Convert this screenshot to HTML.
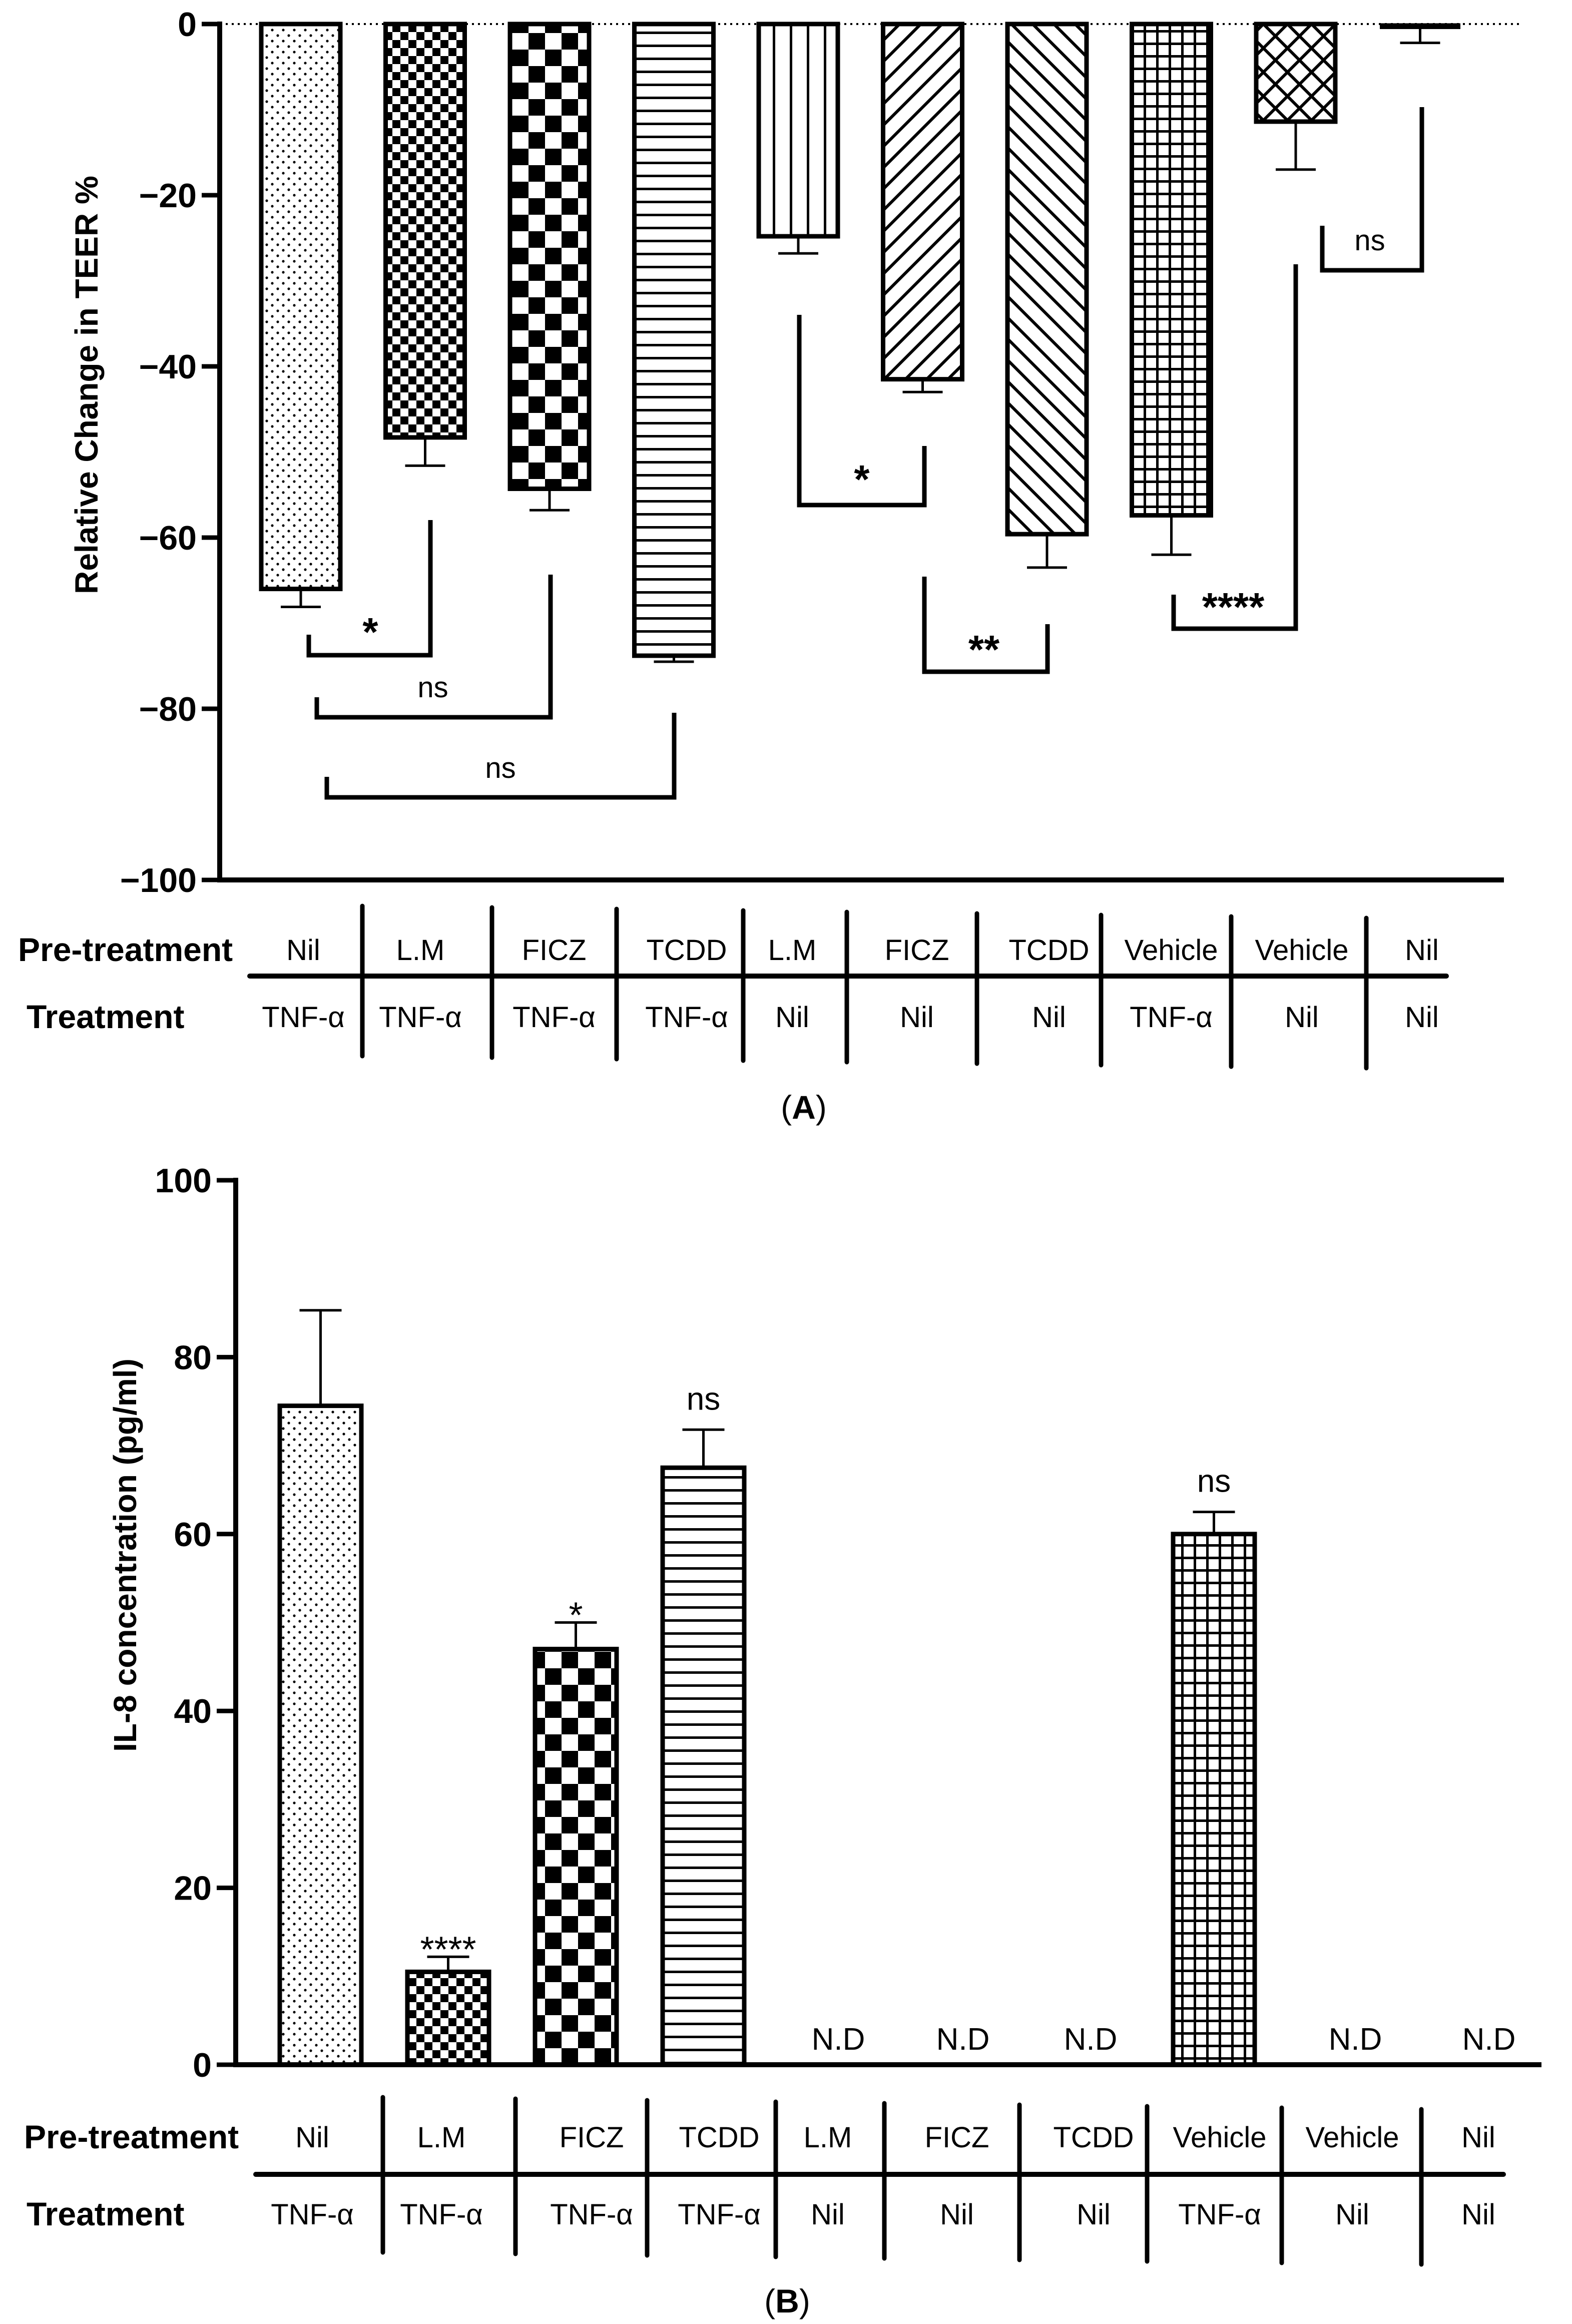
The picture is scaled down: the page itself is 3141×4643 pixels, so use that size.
<!DOCTYPE html>
<html><head><meta charset="utf-8"><style>
html,body{margin:0;padding:0;background:#fff}
svg{display:block}
text{font-family:"Liberation Sans",Arial,sans-serif}
</style></head><body>
<svg id="fig" width="3141" height="4643" viewBox="0 0 3141 4643" xmlns="http://www.w3.org/2000/svg">
<defs>
<pattern id="p0" width="22" height="22" patternUnits="userSpaceOnUse"><rect width="22" height="22" fill="#fff"/><circle cx="5" cy="5" r="2.6" fill="#000"/><circle cx="16" cy="16" r="2.6" fill="#000"/></pattern>
<pattern id="p1" width="32" height="32" patternUnits="userSpaceOnUse"><rect width="32" height="32" fill="#fff"/><rect width="16" height="16" fill="#000"/><rect x="16" y="16" width="16" height="16" fill="#000"/></pattern>
<pattern id="p2" width="66" height="66" patternUnits="userSpaceOnUse"><rect width="66" height="66" fill="#fff"/><rect width="33" height="33" fill="#000"/><rect x="33" y="33" width="33" height="33" fill="#000"/></pattern>
<pattern id="p3" width="26" height="26" patternUnits="userSpaceOnUse"><rect width="26" height="26" fill="#fff"/><rect y="11" width="26" height="5" fill="#000"/></pattern>
<pattern id="p4" width="34" height="34" patternUnits="userSpaceOnUse"><rect width="34" height="34" fill="#fff"/><rect x="14" width="5" height="34" fill="#000"/></pattern>
<pattern id="p5" width="30" height="30" patternUnits="userSpaceOnUse" patternTransform="rotate(45)"><rect width="30" height="30" fill="#fff"/><rect x="12" width="6" height="30" fill="#000"/></pattern>
<pattern id="p6" width="30" height="30" patternUnits="userSpaceOnUse" patternTransform="rotate(-45)"><rect width="30" height="30" fill="#fff"/><rect x="12" width="6" height="30" fill="#000"/></pattern>
<pattern id="p7" width="25" height="25" patternUnits="userSpaceOnUse"><rect width="25" height="25" fill="#fff"/><rect x="10" width="5" height="25" fill="#000"/><rect y="10" width="25" height="5" fill="#000"/></pattern>
<pattern id="p8" width="34" height="34" patternUnits="userSpaceOnUse" patternTransform="rotate(45)"><rect width="34" height="34" fill="#fff"/><rect x="14" width="6" height="34" fill="#000"/><rect y="14" width="34" height="6" fill="#000"/></pattern>
</defs>
<g id="A"></g>
<g id="B"></g>
</svg>
<script>
var preTreat = ["Nil","L.M","FICZ","TCDD","L.M","FICZ","TCDD","Vehicle","Vehicle","Nil"];
var treat = ["TNF-α","TNF-α","TNF-α","TNF-α","Nil","Nil","Nil","TNF-α","Nil","Nil"];
var teerValues = [-66, -48.3, -54.3, -73.8, -24.8, -41.5, -59.6, -57.4, -11.4, -0.5];
var teerErrors = [2.1, 3.3, 2.5, 0.7, 2.0, 1.5, 3.9, 4.6, 5.6, 1.7];
var teerTicks = [0, -20, -40, -60, -80, -100];
var il8Values = [74.5, 10.5, 47, 67.5, 0, 0, 0, 60, 0, 0];
var il8Errors = [10.8, 1.7, 3.0, 4.3, 0, 0, 0, 2.5, 0, 0];
var il8Detected = [true, true, true, true, false, false, false, true, false, false];
var il8Sig = ["", "****", "*", "ns", "", "", "", "ns", "", ""];
var il8Ticks = [0, 20, 40, 60, 80, 100];

var NS="http://www.w3.org/2000/svg";
function mk(parent, tag, attrs, txt){var e=document.createElementNS(NS,tag);for(var k in attrs)e.setAttribute(k,attrs[k]);if(txt!=null)e.textContent=txt;parent.appendChild(e);return e;}

// ---------- Chart A ----------
var gA=document.getElementById('A');
var aX0=439, aX1=3005, aY0=48, aY100=1758;
function yA(v){return aY0+(0-v)/100*(aY100-aY0);}
function xA(i){return 522+i*248.5;}
var bwA=158;
var zl=mk(gA,'line',{x1:aX0,y1:yA(0),x2:3035,y2:yA(0),stroke:'#000','stroke-width':4,'stroke-dasharray':'4 8'});


for(var i=0;i<teerValues.length;i++){
  var v=teerValues[i], e=teerErrors[i];
  var r=mk(gA,'rect',{x:xA(i),y:yA(0),width:bwA,height:Math.max(yA(v)-yA(0),2),fill:'url(#p'+Math.min(i,8)+')',stroke:'#000','stroke-width':9});
  if(i==9){r.setAttribute('fill','#000');r.setAttribute('stroke-width',3);}
  
  
  var cx=xA(i)+bwA/2;
  var el=mk(gA,'path',{d:'M'+cx+','+yA(v)+'V'+yA(v-e)+'M'+(cx-40)+','+yA(v-e)+'H'+(cx+40),stroke:'#000','stroke-width':5,fill:'none'});
  
  
}
var axA=mk(gA,'path',{d:'M'+aX0+','+(aY0-5)+'V'+aY100+'H'+aX1,stroke:'#000','stroke-width':10,fill:'none'});


for(var t=0;t<teerTicks.length;t++){
  var y=yA(teerTicks[t]);
  mk(gA,'line',{x1:403,y1:y,x2:aX0,y2:y,stroke:'#000','stroke-width':9});
  var tl=mk(gA,'text',{x:393,y:y+24,'text-anchor':'end','font-size':68,'font-weight':'bold'},teerTicks[t]<0?'−'+Math.abs(teerTicks[t]):String(teerTicks[t]));
  
  
}
var ytA=mk(gA,'text',{x:0,y:0,transform:'translate(195,769) rotate(-90)','text-anchor':'middle','font-size':64,'font-weight':'bold'},'Relative Change in TEER %');


var brA=[
 {d:'M617,1268V1309H860V1039',t:'*',tx:740,ty:1290,fs:80,b:true},
 {d:'M633,1393V1433H1100V1148',t:'ns',tx:865,ty:1393,fs:58,b:false},
 {d:'M653,1552V1593H1347V1424',t:'ns',tx:1000,ty:1554,fs:58,b:false},
 {d:'M1597,629V1009H1847V891',t:'*',tx:1722,ty:985,fs:80,b:true},
 {d:'M1847,1152V1342H2093V1247',t:'**',tx:1966,ty:1325,fs:80,b:true},
 {d:'M2345,1188V1256H2589V528',t:'****',tx:2464,ty:1240,fs:80,b:true},
 {d:'M2642,451V540H2841V214',t:'ns',tx:2737,ty:500,fs:58,b:false}
];
for(var k=0;k<brA.length;k++){
  var b=brA[k];
  var p=mk(gA,'path',{d:b.d,stroke:'#000','stroke-width':9,fill:'none'});
  
  
  var st=mk(gA,'text',{x:b.tx,y:b.ty,'text-anchor':'middle','font-size':b.fs,'font-weight':b.b?'bold':'normal'},b.t);
  
  
}
function table(g, rowY1, rowY2, lineY, lineX0, lineX1, seps, sepTop, sepBot, centers, lblX1, lblX2, tag){
  var l=mk(g,'line',{x1:lineX0,y1:lineY,x2:lineX1,y2:lineY,stroke:'#000','stroke-width':10,'stroke-linecap':'round'});
  
  
  for(var s=0;s<seps.length;s++){
    var sl=mk(g,'line',{x1:seps[s],y1:sepTop+s*3,x2:seps[s],y2:sepBot+s*3,stroke:'#000','stroke-width':9,'stroke-linecap':'round'});
    
    
  }
  var a=mk(g,'text',{x:lblX1,y:rowY1+22,'font-size':66,'font-weight':'bold'},'Pre-treatment');
  
  
  var c=mk(g,'text',{x:lblX2,y:rowY2+22,'font-size':66,'font-weight':'bold'},'Treatment');
  
  
  for(var i=0;i<centers.length;i++){
    var t1=mk(g,'text',{x:centers[i],y:rowY1+20,'text-anchor':'middle','font-size':58},preTreat[i]);
    
    
    var t2=mk(g,'text',{x:centers[i],y:rowY2+20,'text-anchor':'middle','font-size':58},treat[i]);
    
    
  }
}
table(gA,1898,2032,1950,499,2890,[724,983,1232,1485,1692,1952,2200,2460,2730],1810,2110,
 [606,840,1107,1372,1583,1832,2096,2340,2601,2841],36,53,'a');
var ca=mk(gA,'text',{x:1606,y:2235,'text-anchor':'middle','font-size':66,'font-family':'Liberation Serif, serif'});


ca.innerHTML='(<tspan font-weight="bold">A</tspan>)';

// ---------- Chart B ----------
var gB=document.getElementById('B');
var bX0=471, bX1=3080, bY0=4125, bY100=2358;
function yB(v){return bY0-v/100*(bY0-bY100);}
function xB(i){return 559+i*255;}
var bwB=163;
var ndX=[0,0,0,0,1675,1924,2179,0,2708,2975];
for(var i=0;i<il8Values.length;i++){
  var cx=xB(i)+bwB/2;
  if(il8Detected[i]){
    var v=il8Values[i], e=il8Errors[i];
    var r=mk(gB,'rect',{x:xB(i),y:yB(v),width:bwB,height:yB(0)-yB(v),fill:'url(#p'+i+')',stroke:'#000','stroke-width':9});
    
    
    var el=mk(gB,'path',{d:'M'+cx+','+yB(v)+'V'+yB(v+e)+'M'+(cx-42)+','+yB(v+e)+'H'+(cx+42),stroke:'#000','stroke-width':5,fill:'none'});
    
    
    if(il8Sig[i]){
      var isStar=il8Sig[i].indexOf('*')>=0;
      var sg=mk(gB,'text',{x:cx,y:yB(v+e)-(isStar?-10:40),'text-anchor':'middle','font-size':isStar?72:64},il8Sig[i]);
      
      
    }
  } else {
    var nd=mk(gB,'text',{x:ndX[i],y:4095,'text-anchor':'middle','font-size':62},'N.D');
    
    
  }
}
var axB=mk(gB,'path',{d:'M'+bX0+','+(bY100-5)+'V'+bY0+'H'+bX1,stroke:'#000','stroke-width':10,fill:'none'});


for(var t=0;t<il8Ticks.length;t++){
  var y=yB(il8Ticks[t]);
  mk(gB,'line',{x1:433,y1:y,x2:bX0,y2:y,stroke:'#000','stroke-width':9});
  var tl=mk(gB,'text',{x:423,y:y+24,'text-anchor':'end','font-size':68,'font-weight':'bold'},String(il8Ticks[t]));
  
  
}
var ytB=mk(gB,'text',{x:0,y:0,transform:'translate(272,3107) rotate(-90)','text-anchor':'middle','font-size':64,'font-weight':'bold'},'IL-8 concentration (pg/ml)');


table(gB,4270,4424,4344,511,3004,[765,1030,1293,1550,1767,2037,2292,2561,2840],4190,4500,
 [624,882,1182,1437,1654,1912,2185,2437,2702,2954],48,53,'b');
var cb=mk(gB,'text',{x:1573,y:4620,'text-anchor':'middle','font-size':66,'font-family':'Liberation Serif, serif'});


cb.innerHTML='(<tspan font-weight="bold">B</tspan>)';
</script>
</body></html>
